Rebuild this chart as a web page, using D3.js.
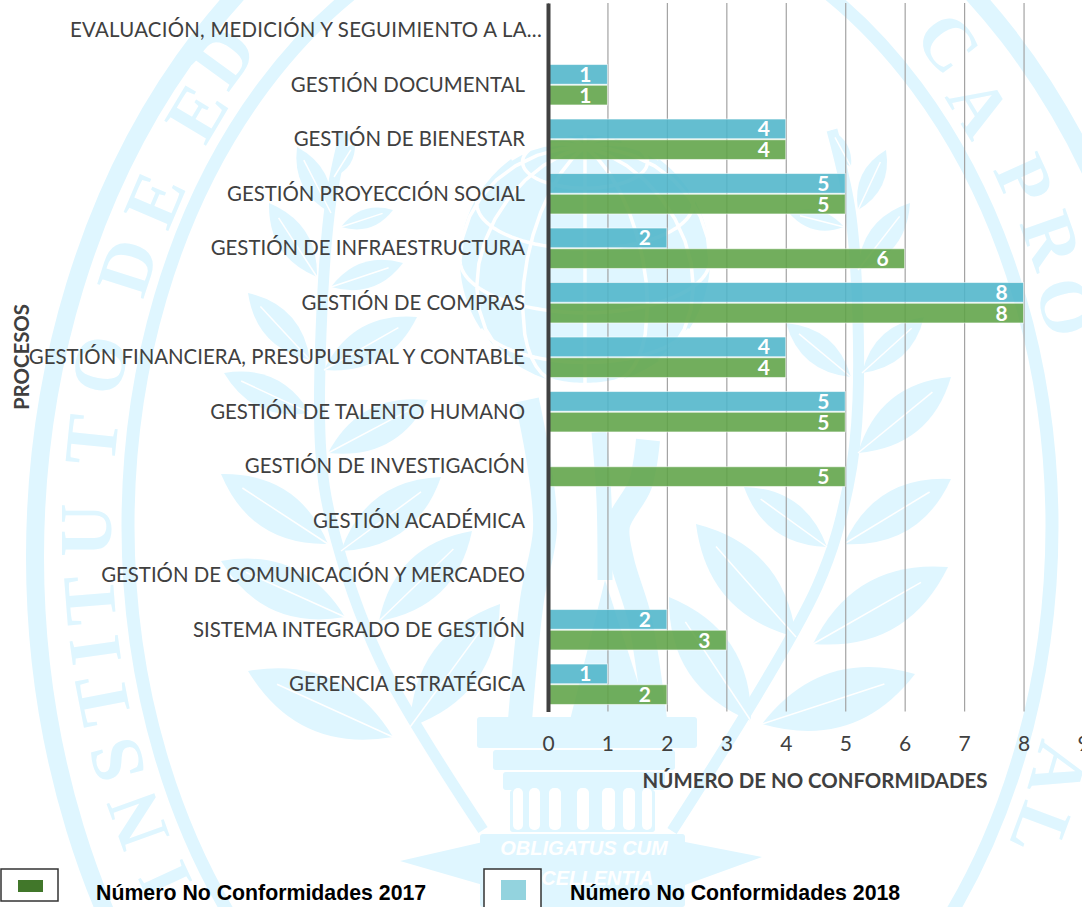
<!DOCTYPE html>
<html>
<head>
<meta charset="utf-8">
<script src="https://cdn.jsdelivr.net/npm/d3@7"></script>
<style>
    html, body { margin: 0; padding: 0; background: #fff; overflow: hidden; }
    svg { display: block; }
    .cat text { font-family: Lato, sans-serif; font-size: 20.4px; fill: #404040; }
    .val text { font-family: Lato, sans-serif; font-size: 21px; fill: #404040; }
    .title { font-family: Lato, sans-serif; font-weight: bold; font-size: 20.4px; fill: #404040; }
    .lab { font-family: Lato, sans-serif; font-weight: bold; font-size: 21px; fill: #fff; text-anchor: middle; }
    .leg { font-family: "Liberation Sans", sans-serif; font-weight: bold; font-size: 21.3px; fill: #000; }
</style>
</head>
<body>
<div id="main"></div>
<script>
var categories = [
    "EVALUACIÓN, MEDICIÓN Y SEGUIMIENTO A LA...",
    "GESTIÓN DOCUMENTAL",
    "GESTIÓN DE BIENESTAR",
    "GESTIÓN PROYECCIÓN SOCIAL",
    "GESTIÓN DE INFRAESTRUCTURA",
    "GESTIÓN DE COMPRAS",
    "GESTIÓN FINANCIERA, PRESUPUESTAL Y CONTABLE",
    "GESTIÓN DE TALENTO HUMANO",
    "GESTIÓN DE INVESTIGACIÓN",
    "GESTIÓN ACADÉMICA",
    "GESTIÓN DE COMUNICACIÓN Y MERCADEO",
    "SISTEMA INTEGRADO DE GESTIÓN",
    "GERENCIA ESTRATÉGICA"
];
var values2018 = [0, 1, 4, 5, 2, 8, 4, 5, 0, 0, 0, 2, 1];
var values2017 = [0, 1, 4, 5, 6, 8, 4, 5, 5, 0, 0, 3, 2];
var seriesNames = ["Número No Conformidades 2018", "Número No Conformidades 2017"];
var xTicks = [0, 1, 2, 3, 4, 5, 6, 7, 8, 9];

// the seal behind the chart: each leaf is [base x, base y, tip x, tip y]
var leaves = [
    [393, 737, 248, 671], [410, 727, 500, 604], [345, 617, 221, 561], [379, 621, 472, 531],
    [328, 544, 221, 474], [341, 551, 441, 477], [310, 413, 224, 373], [328, 453, 428, 400],
    [310, 360, 248, 293], [324, 370, 417, 317], [317, 277, 269, 203], [331, 287, 403, 263],
    [331, 213, 297, 147], [341, 227, 393, 210], [334, 177, 355, 143],
    [762, 724, 915, 674], [751, 721, 669, 597], [813, 644, 948, 567], [796, 637, 696, 524],
    [844, 544, 951, 479], [827, 547, 744, 487], [858, 453, 951, 377], [851, 377, 786, 323],
    [862, 373, 924, 317], [858, 270, 910, 203], [844, 227, 789, 213], [858, 210, 886, 150],
    [851, 167, 831, 130]
];
var leftStem = [[483, 830], [380, 660], [331, 520], [321, 454], [321, 333], [331, 200], [345, 133]];
var rightStem = [[672, 831], [817, 587], [848, 487], [858, 400], [851, 217], [832, 130]];
// the three strips of the figure between the globe and the column
var figure = [
    [[527, 400], [540, 470], [545, 530], [532, 600], [520, 720]],
    [[599, 432], [604, 500], [605, 580]],
    [[648, 440], [640, 485], [618, 525], [622, 560], [640, 620], [655, 720]]
];
var flutes = [[513, 10], [529, 11], [549, 12], [577, 12], [602, 13], [623, 12], [642, 10]];
// the letters that can be seen of the name, with their centres
var sealLetters = [
    ["I", 165, 880], ["N", 138, 820], ["S", 117, 760], ["T", 103, 700], ["I", 95, 650],
    ["T", 90, 600], ["U", 87, 530], ["T", 92, 440], ["O", 100, 365], ["D", 128, 267],
    ["E", 155, 200], ["E", 197, 113], ["D", 224, 57], ["C", 948, 43], ["A", 979, 107],
    ["P", 1024, 180], ["R", 1051, 240], ["O", 1066, 307], ["A", 1058, 770], ["L", 1040, 830]
];
var motto = ["OBLIGATUS CUM", "EXCELLENTIA"];

var ctx = {
    w: 1082,
    h: 907,
    x0: 548,
    x1: 1083,
    top: 3,
    bottom: 711.5,
    seal: "#dff6ff"
};

var drawSeal = function(svg){
    var g = svg.append("g");

    // the two big rings
    g.append("ellipse").attr("cx", 605).attr("cy", 557).attr("rx", 570).attr("ry", 737)
        .attr("fill", "none").attr("stroke", ctx.seal).attr("stroke-width", 18);
    g.append("ellipse").attr("cx", 590).attr("cy", 526).attr("rx", 462).attr("ry", 621)
        .attr("fill", "none").attr("stroke", ctx.seal).attr("stroke-width", 13);

    // the letters turn with the ellipse between the rings
    g.selectAll(".sealLetter").data(sealLetters).enter().append("text")
        .attr("class", "sealLetter")
        .attr("font-family", "Liberation Serif, serif")
        .attr("font-size", 74)
        .attr("font-weight", "bold")
        .attr("fill", ctx.seal)
        .attr("text-anchor", "middle")
        .attr("dy", "0.33em")
        .attr("transform", function(d){
            var t = Math.atan2((d[2] - 530) / 680, (d[1] - 590) / 510);
            var a = Math.atan2(680 * Math.cos(t), -510 * Math.sin(t)) * 180 / Math.PI;
            return "translate(" + d[1] + "," + d[2] + ") rotate(" + a + ")";
        })
        .text(function(d){ return d[0]; });

    // the globe, blue with white lines
    var projection = d3.geoOrthographic().scale(125).translate([585, 260]).rotate([0, -25]).clipAngle(90);
    var geo = d3.geoPath(projection);
    g.append("path").datum({type: "Sphere"}).attr("d", geo).attr("fill", ctx.seal);
    g.append("path").datum(d3.geoGraticule().step([30, 30])())
        .attr("d", geo).attr("fill", "none").attr("stroke", "#fff").attr("stroke-width", 3.5);

    // the laurel branches
    var stem = d3.line().curve(d3.curveCatmullRom);
    [leftStem, rightStem].forEach(function(s){
        g.append("path").attr("d", stem(s)).attr("fill", "none")
            .attr("stroke", ctx.seal).attr("stroke-width", 11);
    });
    g.selectAll(".leaf").data(leaves).enter().append("path")
        .attr("class", "leaf")
        .attr("fill", ctx.seal)
        .attr("d", function(d){
            var mx = (d[0] + d[2]) / 2, my = (d[1] + d[3]) / 2;
            var nx = -(d[3] - d[1]) * 0.34, ny = (d[2] - d[0]) * 0.34;
            return "M" + d[0] + "," + d[1] +
                "Q" + (mx + nx) + "," + (my + ny) + " " + d[2] + "," + d[3] +
                "Q" + (mx - nx) + "," + (my - ny) + " " + d[0] + "," + d[1] + "Z";
        });
    // a thin white vein in each leaf
    g.selectAll(".vein").data(leaves).enter().append("line")
        .attr("class", "vein")
        .attr("x1", function(d){ return d[0]; }).attr("y1", function(d){ return d[1]; })
        .attr("x2", function(d){ return d[0] + (d[2] - d[0]) * 0.8; })
        .attr("y2", function(d){ return d[1] + (d[3] - d[1]) * 0.8; })
        .attr("stroke", "#fff").attr("stroke-width", 1.5);

    // the figure under the globe
    figure.forEach(function(s, i){
        g.append("path").attr("d", stem(s)).attr("fill", "none")
            .attr("stroke", ctx.seal).attr("stroke-width", i == 1 ? 15 : 24);
    });
    g.append("path").attr("d", "M605,580L570,720L650,720Z").attr("fill", ctx.seal);

    // the column, in stacked blocks
    var blocks = [[477, 717, 220, 31], [493, 750, 182, 20], [503, 772, 162, 18], [510, 790, 145, 42], [480, 834, 205, 73]];
    g.selectAll(".block").data(blocks).enter().append("rect")
        .attr("class", "block")
        .attr("x", function(d){ return d[0]; }).attr("y", function(d){ return d[1]; })
        .attr("width", function(d){ return d[2]; }).attr("height", function(d){ return d[3]; })
        .attr("rx", 3)
        .attr("fill", ctx.seal);
    g.selectAll(".flute").data(flutes).enter().append("rect")
        .attr("class", "flute")
        .attr("x", function(d){ return d[0]; }).attr("width", function(d){ return d[1]; })
        .attr("y", 788).attr("height", 42).attr("rx", 5).attr("fill", "#fff");
    g.append("path").attr("d", "M483,842L400,861L483,885Z").attr("fill", ctx.seal);
    g.append("path").attr("d", "M685,842L762,857L685,885Z").attr("fill", ctx.seal);

    g.selectAll(".motto").data(motto).enter().append("text")
        .attr("class", "motto")
        .attr("x", 584)
        .attr("y", function(d, i){ return 855 + i * 30; })
        .attr("text-anchor", "middle")
        .attr("font-family", "Liberation Sans, sans-serif")
        .attr("font-style", "italic")
        .attr("font-weight", "bold")
        .attr("font-size", 20)
        .attr("fill", "#fff")
        .text(function(d){ return d; });
};

var createChart = function(svg){
    var x = d3.scaleLinear().domain([0, 9]).range([ctx.x0, ctx.x1]);
    var y = d3.scaleBand().domain(categories).range([ctx.top, ctx.bottom]);
    var inner = d3.scaleBand().domain(seriesNames).range([0, y.bandwidth()])
        .paddingInner(0.05).paddingOuter(0.34);
    var color = d3.scaleOrdinal().domain(seriesNames).range(["#4fb5c9", "#5fa347"]);

    // the gridlines come first, the bars are a bit transparent over them
    var grid = svg.append("g").attr("class", "val")
        .attr("transform", "translate(0," + ctx.bottom + ")")
        .call(d3.axisBottom(x).tickValues(xTicks).tickSize(-(ctx.bottom - ctx.top)).tickPadding(25));
    grid.select(".domain").remove();
    grid.selectAll("line").attr("stroke", "#a3a3a3").attr("stroke-width", 1.2);

    // one row per category
    var rows = categories.map(function(c, i){
        return [
            {cat: c, name: seriesNames[0], value: values2018[i]},
            {cat: c, name: seriesNames[1], value: values2017[i]}
        ];
    });
    var row = svg.selectAll(".row").data(rows).enter().append("g")
        .attr("class", "row")
        .attr("transform", function(d){ return "translate(0," + y(d[0].cat) + ")"; });

    var kept = function(d){ return d.filter(function(e){ return e.value > 0; }); };

    row.selectAll("rect").data(kept).enter().append("rect")
        .attr("x", x(0))
        .attr("y", function(d){ return inner(d.name); })
        .attr("width", function(d){ return x(d.value) - x(0); })
        .attr("height", inner.bandwidth())
        .attr("fill", function(d){ return color(d.name); })
        .attr("fill-opacity", 0.88)
        .attr("stroke", "#fff")
        .attr("stroke-opacity", 0.55)
        .attr("stroke-width", 1);

    row.selectAll("text").data(kept).enter().append("text")
        .attr("class", "lab")
        .attr("x", function(d){ return x(d.value) - 22; })
        .attr("y", function(d){ return inner(d.name) + inner.bandwidth() / 2 + 7.5; })
        .text(function(d){ return d.value; });

    // the category axis, the long first label sits closer to the line
    var cat = svg.append("g").attr("class", "cat")
        .attr("transform", "translate(" + x(0) + ",0)")
        .call(d3.axisLeft(y).tickSize(0).tickPadding(23));
    cat.select(".domain").attr("stroke", "#404040").attr("stroke-width", 4);
    cat.selectAll(".tick text")
        .attr("x", function(d, i){ return i == 0 ? -6 : -23; })
        .attr("dy", "0.34em")
        .style("letter-spacing", function(d, i){ return i == 0 ? "0.25px" : null; });

    svg.append("text").attr("class", "title")
        .attr("text-anchor", "middle")
        .attr("transform", "translate(29,357) rotate(-90)")
        .text("PROCESOS");
    svg.append("text").attr("class", "title")
        .attr("text-anchor", "middle")
        .attr("x", 815).attr("y", 788)
        .text("NÚMERO DE NO CONFORMIDADES");

    // legend: 2017 comes first, each in its own box
    var legend = [
        {x: 1, h: 32, sw: 12, c: "#41772a", label: seriesNames[1], tx: 96},
        {x: 484, h: 44, sw: 20, c: "#93d3de", label: seriesNames[0], tx: 570}
    ];
    var leg = svg.selectAll(".legItem").data(legend).enter().append("g").attr("class", "legItem");
    leg.append("rect")
        .attr("x", function(d){ return d.x; }).attr("y", 869)
        .attr("width", 57).attr("height", function(d){ return d.h; })
        .attr("fill", "#fff").attr("stroke", "#333").attr("stroke-width", 1.5);
    leg.append("rect")
        .attr("x", function(d){ return d.x + 17; }).attr("y", 880)
        .attr("width", 25).attr("height", function(d){ return d.sw; })
        .attr("fill", function(d){ return d.c; });
    leg.append("text").attr("class", "leg")
        .attr("x", function(d){ return d.tx; }).attr("y", 900)
        .text(function(d){ return d.label; });
};

var createViz = function(){
    var svg = d3.select("#main").append("svg")
        .attr("width", ctx.w)
        .attr("height", ctx.h);
    drawSeal(svg);
    createChart(svg);
};

createViz();
</script>
</body>
</html>
